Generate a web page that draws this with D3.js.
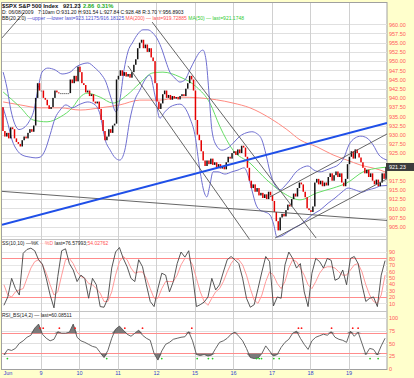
<!DOCTYPE html>
<html>
<head>
<meta charset="utf-8">
<script src="https://cdn.jsdelivr.net/npm/d3@7"></script>
<style>
html, body { margin: 0; padding: 0; background: #ffffcc; }
svg { display: block; font-family: "Liberation Sans", Arial, sans-serif; }
</style>
</head>
<body>
<svg id="chart" width="414" height="378"></svg>
<script>
// ---- data ----
const days = ["Jun", "9", "10", "11", "12", "15", "16", "17", "18", "19"];
const barsPerDay = 20;
const firstOpen = 937.5;
const closes = [
  // Jun 8
  931, 929.5, 930.5, 929, 932, 931.5, 929, 928, 927.5, 926.8, 928.5, 929.5, 929, 930.5, 931.5, 930.8, 932.5, 940, 944, 942,
  // Jun 9
  942, 940, 939.5, 938, 937, 937.5, 940, 942, 941.5, 941.3, 941.3, 941.3, 941.3, 941.3, 941.3, 945, 944, 946, 944.5, 948.5,
  // Jun 10
  947, 944, 943.5, 941.5, 942, 940.5, 941, 939, 938.5, 939, 937, 934, 931, 928.5, 929.5, 931.5, 930.5, 932.5, 933, 945,
  // Jun 11
  946, 947.5, 946, 947, 945.8, 946.5, 945.5, 947, 949, 950.5, 953.5, 955, 955.8, 953.5, 954.5, 952.5, 953.5, 951, 950, 944,
  // Jun 12
  939, 937, 938.5, 941, 942, 940, 940.8, 939.5, 940.5, 939.8, 940.2, 939.6, 940.5, 941, 940.5, 942.5, 944, 946, 945, 942,
  // Jun 15
  934, 930, 928.5, 925.5, 923, 921.5, 923, 922, 923.5, 921.8, 922.5, 921, 922, 920.8, 921.5, 920.6, 922.5, 924, 923.5, 925,
  // Jun 16
  925.5, 924.5, 926, 925, 927, 926.5, 924, 921, 917.5, 915.5, 916.5, 914.5, 915.5, 913.5, 914.2, 912.8, 913.8, 912.5, 914.5, 913.5,
  // Jun 17
  912, 909, 906.5, 904, 907.5, 908.5, 907.8, 909.5, 911, 910.5, 912.5, 914, 913.2, 915.5, 917, 916.5, 914.5, 913, 910, 909.5,
  // Jun 18
  909, 910.5, 917, 918, 916.5, 917.5, 916, 917, 916.2, 918.5, 919.5, 917.5, 919, 920, 918.5, 919.5, 917, 916, 918, 922,
  // Jun 19
  924, 925.5, 923.5, 926, 925, 923.8, 922.5, 921, 919.5, 920.5, 918.5, 919.5, 917.5, 916.5, 917.8, 916, 917, 919.5, 918, 921.23
];
const lastPrice = 921.23;

// indicator curves: [day position, price]
const bbUpper = [
  [0.03, 947.0], [0.13, 942.7], [0.23, 936.7], [0.34, 932.7], [0.44, 931.4], [0.57, 931.9], [0.70, 933.5], [0.83, 936.7],
  [0.94, 942.7], [1.04, 947.0], [1.19, 948.1], [1.38, 947.6], [1.56, 946.5], [1.77, 947.0], [1.92, 948.4], [2.08, 949.2],
  [2.23, 949.5], [2.42, 948.1], [2.57, 946.5], [2.70, 944.3], [2.83, 940.0], [2.96, 936.2], [3.06, 939.4], [3.17, 947.6],
  [3.27, 952.5], [3.40, 955.2], [3.53, 957.4], [3.66, 958.5], [3.79, 958.5], [3.92, 957.6], [4.05, 955.7], [4.16, 953.0],
  [4.26, 949.8], [4.36, 947.0], [4.49, 945.4], [4.62, 944.3], [4.75, 944.9], [4.88, 947.6], [5.01, 950.3], [5.14, 952.5],
  [5.22, 953.0], [5.30, 950.3], [5.38, 940.8], [5.45, 931.4], [5.56, 927.2], [5.71, 925.8], [5.87, 926.4], [6.03, 928.0],
  [6.18, 929.6], [6.34, 930.5], [6.49, 930.8], [6.62, 930.3], [6.75, 928.6], [6.86, 924.5], [6.96, 919.9], [7.09, 916.3],
  [7.22, 915.0], [7.35, 916.1], [7.48, 917.7], [7.64, 919.9], [7.79, 921.0], [7.95, 921.5], [8.10, 920.4], [8.26, 919.9],
  [8.42, 920.4], [8.57, 921.0], [8.73, 921.8], [8.88, 923.7], [9.01, 927.2], [9.17, 929.1], [9.32, 929.6], [9.48, 929.1],
  [9.64, 927.2], [9.79, 924.5], [9.95, 923.3], [10, 923.1]
];
const bbLower = [
  [0.03, 937.3], [0.16, 932.7], [0.26, 928.6], [0.39, 925.8], [0.52, 924.5], [0.73, 923.9], [0.88, 923.7], [0.99, 923.9],
  [1.12, 925.8], [1.25, 930.0], [1.38, 934.5], [1.51, 936.7], [1.66, 938.1], [1.82, 937.3], [2.03, 938.3], [2.23, 938.9],
  [2.42, 938.1], [2.55, 935.4], [2.68, 928.6], [2.81, 925.8], [2.94, 923.7], [3.06, 923.1], [3.19, 925.8], [3.32, 934.0],
  [3.45, 939.4], [3.58, 942.1], [3.71, 944.9], [3.84, 946.2], [3.97, 940.8], [4.10, 934.5], [4.23, 936.2], [4.36, 937.5],
  [4.49, 938.1], [4.62, 938.3], [4.75, 937.3], [4.88, 934.5], [5.01, 930.0], [5.14, 920.4], [5.25, 914.4], [5.32, 913.1],
  [5.40, 916.3], [5.48, 919.9], [5.61, 919.9], [5.79, 919.3], [5.97, 919.9], [6.13, 920.4], [6.29, 921.0], [6.39, 919.0],
  [6.49, 915.0], [6.60, 910.9], [6.70, 909.5], [6.83, 909.0], [6.96, 908.2], [7.06, 905.5], [7.14, 902.2], [7.27, 902.5],
  [7.43, 903.6], [7.58, 904.6], [7.74, 905.5], [7.90, 906.8], [8.05, 908.2], [8.26, 909.5], [8.47, 911.4], [8.65, 912.8],
  [8.83, 914.4], [8.99, 915.5], [9.17, 915.0], [9.35, 914.4], [9.51, 915.0], [9.69, 915.5], [9.84, 916.1], [10, 916.2]
];
const ma50 = [
  [0.03, 941.6], [0.47, 937.5], [0.81, 934.0], [1.17, 933.5], [1.51, 934.8], [1.84, 937.5], [2.03, 940.2], [2.21, 941.3],
  [2.55, 940.2], [2.88, 938.6], [3.25, 940.8], [3.58, 944.0], [3.92, 946.8], [4.18, 947.0], [4.62, 945.7], [5.06, 942.9],
  [5.40, 938.6], [5.66, 932.2], [6.00, 925.8], [6.44, 922.3], [6.88, 917.7], [7.30, 914.2], [7.74, 912.3], [8.18, 914.2],
  [8.60, 915.5], [8.96, 916.9], [9.38, 919.9], [9.82, 921.0], [10, 921.2]
];
const ma200 = [
  [0.03, 938.9], [0.47, 938.1], [0.99, 937.3], [1.51, 937.3], [2.03, 936.7], [2.55, 937.3], [3.06, 938.1], [3.58, 939.4],
  [4.10, 939.4], [4.62, 940.2], [5.14, 940.0], [6.00, 938.6], [6.44, 937.3], [6.96, 934.5], [7.40, 931.4], [7.74, 928.6],
  [8.18, 926.7], [8.60, 924.5], [8.96, 923.1], [9.30, 921.8], [9.82, 920.4], [10, 919.7]
];

// drawn trend lines: [[day, price], [day, price]]
const blueTrend = [[0, 905.5], [10, 933.2]];
const grayTrends = [
  [[0, 914.6], [10, 906.7]],
  [[0, 956.3], [0.57, 963.1]],
  [[3.90, 960.6], [8.16, 901.9]],
  [[3.27, 948.7], [6.44, 901.4]],
  [[6.96, 913.1], [10, 930.2]],
  [[7.09, 901.9], [10, 918.0]]
];

// slow stochastic and RSI, ten readings per day
const stochK = [7, 20, 49, 33, 23, 88, 94, 96, 92, 78, 71, 49, 23, 3, 52, 92, 95, 72, 62, 44,
  54, 49, 18, 49, 39, 5, 4, 18, 65, 90, 97, 80, 67, 49, 44, 78, 67, 39, 13, 5,
  33, 57, 54, 28, 44, 72, 90, 82, 92, 54, 5, 8, 12, 20, 49, 31, 39, 59, 78, 83,
  78, 72, 49, 18, 4, 8, 33, 59, 83, 75, 6, 20, 18, 70, 90, 80, 65, 72, 28, 5,
  57, 80, 75, 65, 80, 77, 46, 49, 62, 39, 80, 83, 72, 39, 13, 18, 20, 5, 54, 76.58];
const stochD = [39, 23, 20, 28, 31, 33, 49, 65, 75, 78, 70, 57, 39, 23, 28, 54, 78, 80, 72, 59,
  52, 49, 41, 39, 33, 26, 13, 13, 28, 54, 75, 83, 78, 65, 57, 59, 59, 49, 33, 18,
  18, 33, 44, 44, 44, 54, 70, 80, 80, 70, 49, 28, 13, 7, 18, 28, 33, 44, 59, 72,
  80, 78, 70, 54, 33, 15, 10, 23, 44, 59, 54, 41, 33, 44, 65, 78, 75, 65, 54, 39,
  33, 44, 57, 65, 67, 67, 65, 59, 54, 54, 62, 70, 72, 59, 39, 23, 13, 10, 23, 54.03];
const rsi = [27, 38, 36, 40, 50, 55, 62, 66, 80, 88, 68, 60, 55, 58, 73, 70, 70, 72, 88, 62,
  55, 52, 48, 44, 42, 32, 22, 36, 60, 78, 84, 76, 68, 64, 70, 76, 66, 60, 56, 30,
  17, 35, 48, 52, 58, 60, 62, 63, 73, 55, 28, 26, 28, 25, 27, 40, 52, 55, 60, 68,
  72, 64, 55, 40, 22, 20, 21, 30, 45, 35, 25, 28, 42, 52, 58, 70, 74, 60, 48, 38,
  55, 62, 65, 68, 66, 73, 62, 58, 56, 52, 74, 64, 72, 50, 28, 40, 38, 27, 45, 60.09];
const sellSignals = [0.99, 1.07, 1.49, 1.90, 3.19, 3.65, 4.93, 7.70, 7.78, 8.56, 9.11, 9.25];
const buySignals = [0.14, 2.72, 4.15, 5.07, 5.36, 5.47, 6.61, 6.68, 6.74, 7.06, 7.20, 9.56, 9.77];

// ---- chart ----
const svg = d3.select("#chart");
const left = 2, right = 387;
const mainTop = 3, mainBottom = 239.5, ssBottom = 311.5, rsiBottom = 369.5;

const x = d3.scaleLinear().domain([0, 10]).range([left, right]);
const yP = d3.scaleLinear().domain([905, 960]).range([226.7, 24.3]);
const yS = d3.scaleLinear().domain([0, 100]).range([309.8, 245.6]);
const yR = d3.scaleLinear().domain([0, 100]).range([368.7, 318]);
const crisp = v => Math.round(v) + 0.5;

svg.append("rect")
  .attr("x", 1.5).attr("y", 2.5)
  .attr("width", right - 1.5).attr("height", rsiBottom - 2.5)
  .attr("fill", "#fff")
  .attr("stroke", "#a0a0a0");

const defs = svg.append("defs");
[["clipMain", mainTop, mainBottom], ["clipSS", mainBottom, ssBottom], ["clipRSI", ssBottom, rsiBottom]]
  .forEach(([id, y0, y1]) => {
    defs.append("clipPath").attr("id", id)
      .append("rect").attr("x", left).attr("y", y0).attr("width", right - left).attr("height", y1 - y0);
  });

// grid
const grid = svg.append("g");
grid.selectAll(".hp").data(d3.range(902.5, 961, 2.5)).join("line")
  .attr("x1", left).attr("x2", right)
  .attr("y1", d => crisp(yP(d))).attr("y2", d => crisp(yP(d)))
  .attr("stroke", "#e0e0e0");
grid.selectAll(".hs").data(d3.range(10, 100, 10)).join("line")
  .attr("x1", left).attr("x2", right)
  .attr("y1", d => crisp(yS(d))).attr("y2", d => crisp(yS(d)))
  .attr("stroke", "#e6e6e6");
grid.selectAll(".hr").data([25, 50, 75, 100]).join("line")
  .attr("x1", left).attr("x2", right)
  .attr("y1", d => crisp(yR(d))).attr("y2", d => crisp(yR(d)))
  .attr("stroke", "#e0e0e0");
grid.selectAll(".v").data(d3.range(1, 10)).join("line")
  .attr("x1", d => crisp(x(d))).attr("x2", d => crisp(x(d)))
  .attr("y1", mainTop).attr("y2", rsiBottom)
  .attr("stroke", "#d0d0d0");
grid.selectAll(".sep").data([mainBottom, ssBottom]).join("line")
  .attr("x1", left).attr("x2", right)
  .attr("y1", d => d).attr("y2", d => d)
  .attr("stroke", "#c4c4c4");

// reference levels
svg.append("g").selectAll("line")
  .data([[yS, 80], [yS, 20], [yR, 70], [yR, 30]])
  .join("line")
  .attr("x1", left).attr("x2", right)
  .attr("y1", d => crisp(d[0](d[1]))).attr("y2", d => crisp(d[0](d[1])))
  .attr("stroke", "#ff8c8c");

// ---- price panel ----
const main = svg.append("g").attr("clip-path", "url(#clipMain)");
const priceLine = d3.line().x(d => x(d[0])).y(d => yP(d[1]));
const smooth = d3.line().x(d => x(d[0])).y(d => yP(d[1])).curve(d3.curveMonotoneX);

main.append("path").datum(ma200).attr("d", smooth).attr("fill", "none").attr("stroke", "#ff8a80").attr("stroke-width", 1);
main.append("path").datum(ma50).attr("d", smooth).attr("fill", "none").attr("stroke", "#66dd66").attr("stroke-width", 1);
[bbUpper, bbLower].forEach(band => {
  main.append("path").datum(band).attr("d", smooth)
    .attr("fill", "none").attr("stroke", "#6f6fd0").attr("stroke-width", 1);
});

const bars = closes.map((c, i) => ({
  t: Math.floor(i / barsPerDay) + ((i % barsPerDay) + 0.5) / barsPerDay,
  o: i ? closes[i - 1] : firstOpen,
  c
}));
main.append("g").selectAll("rect").data(bars).join("rect")
  .attr("x", d => x(d.t) - 0.75)
  .attr("width", 1.5)
  .attr("y", d => yP(Math.max(d.o, d.c)))
  .attr("height", d => Math.max(1, Math.abs(yP(d.o) - yP(d.c))))
  .attr("fill", d => d.c > d.o ? "#111" : d.c < d.o ? "#e60000" : "#777");

grayTrends.forEach(seg => {
  main.append("path").datum(seg).attr("d", priceLine)
    .attr("fill", "none").attr("stroke", "#555").attr("stroke-width", 0.9);
});
main.append("path").datum(blueTrend).attr("d", priceLine)
  .attr("fill", "none").attr("stroke", "#1f4fe8").attr("stroke-width", 2);

// ---- stochastic panel ----
const ss = svg.append("g").attr("clip-path", "url(#clipSS)");
const tk = (d, i) => x((i + 0.5) / 10);
ss.append("path").datum(stochD)
  .attr("d", d3.line().x(tk).y(d => yS(d)))
  .attr("fill", "none").attr("stroke", "#ff9a9a").attr("stroke-width", 1);
ss.append("path").datum(stochK)
  .attr("d", d3.line().x(tk).y(d => yS(d)))
  .attr("fill", "none").attr("stroke", "#444").attr("stroke-width", 0.9);

// ---- RSI panel ----
const rp = svg.append("g").attr("clip-path", "url(#clipRSI)");
rp.append("path").datum(rsi)
  .attr("d", d3.area().x(tk).y0(yR(70)).y1(d => yR(Math.max(d, 70))))
  .attr("fill", "#7a7a7a");
rp.append("path").datum(rsi)
  .attr("d", d3.area().x(tk).y0(yR(30)).y1(d => yR(Math.min(d, 30))))
  .attr("fill", "#7a7a7a");
rp.append("path").datum(rsi)
  .attr("d", d3.line().x(tk).y(d => yR(d)))
  .attr("fill", "none").attr("stroke", "#555").attr("stroke-width", 0.9);
rp.selectAll(".sell").data(sellSignals).join("circle")
  .attr("cx", d => x(d)).attr("cy", yR(80)).attr("r", 0.9).attr("fill", "#ff1a1a");
rp.selectAll(".buy").data(buySignals).join("circle")
  .attr("cx", d => x(d)).attr("cy", yR(20)).attr("r", 0.9).attr("fill", "#22cc22");

// ---- axes ----
function rightAxis(scale, ticks, fmt) {
  svg.append("g")
    .attr("transform", `translate(${right + 1},0)`)
    .call(d3.axisRight(scale).tickValues(ticks).tickFormat(fmt).tickSize(0).tickPadding(1))
    .attr("font-size", 5.5)
    .attr("font-family", "Liberation Sans, Arial, sans-serif")
    .call(g => g.select(".domain").remove())
    .selectAll("text").attr("fill", "#ff5a5a");
}
// price ticks hidden behind the last-price box are skipped
rightAxis(yP, d3.range(905, 960.1, 2.5).filter(v => Math.abs(v - lastPrice) > 2.6), d3.format(".2f"));
rightAxis(yS, d3.range(10, 100, 10), d3.format("d"));
rightAxis(yR, [0, 25, 50, 75, 100], d3.format("d"));

svg.append("rect")
  .attr("x", right - 1).attr("y", yP(lastPrice) - 4)
  .attr("width", 414 - right + 1).attr("height", 8)
  .attr("fill", "#3c3c3c");
svg.append("text")
  .attr("x", right + 2).attr("y", yP(lastPrice) + 2)
  .attr("font-size", 5.5).attr("fill", "#fff")
  .text(lastPrice.toFixed(2));

svg.append("g")
  .attr("transform", `translate(0,${rsiBottom})`)
  .call(d3.axisBottom(x).tickValues(d3.range(0, 10)).tickFormat(i => days[i]).tickSize(0).tickPadding(2))
  .attr("font-size", 5.5)
  .attr("font-family", "Liberation Sans, Arial, sans-serif")
  .call(g => g.select(".domain").remove())
  .selectAll("text")
  .attr("fill", "#3346d0")
  .attr("text-anchor", (d, i) => i === 0 ? "start" : "middle")
  .attr("dx", (d, i) => i === 0 ? 1 : 0);

// ---- header and legends ----
const head = svg.append("g");
head.append("text").attr("x", 2).attr("y", 7.5)
  .attr("font-size", 5.8).attr("font-weight", "bold")
  .call(t => {
    t.append("tspan").attr("fill", "#111").text("$SPX S&P 500 Index");
    t.append("tspan").attr("x", 63).attr("fill", "#111").text("921.23");
    t.append("tspan").attr("x", 83).attr("fill", "#22aa22").text("2.86");
    t.append("tspan").attr("x", 97).attr("fill", "#22aa22").text("0.31%");
  });
head.append("text").attr("x", 2).attr("y", 14)
  .attr("font-size", 5).attr("fill", "#111")
  .call(t => {
    t.append("tspan").text("D: 06/08/2009");
    t.append("tspan").attr("x", 38).text("7:10am O:931.20 H:931.54 L:927.84 C:928.48 R:3.70 Y:956.8903");
  });
head.append("text").attr("x", 2).attr("y", 19.8)
  .attr("font-size", 5)
  .call(t => {
    t.append("tspan").attr("fill", "#111").text("BB(20,2.0) ");
    t.append("tspan").attr("fill", "#4a4ad0").text("\u2014upper \u2014lower last=923.12175/916.18125 ");
    t.append("tspan").attr("fill", "#ff5050").text("MA(200) \u2014 last=919.72885 ");
    t.append("tspan").attr("fill", "#33cc33").text("MA(50) \u2014 last=921.1748");
  });
svg.append("text").attr("x", 2).attr("y", 244.5)
  .attr("font-size", 5)
  .call(t => {
    t.append("tspan").attr("fill", "#222").text("SS(10,10) \u2014%K ");
    t.append("tspan").attr("fill", "#ff6a6a").text("\u00b7\u00b7\u00b7%D ");
    t.append("tspan").attr("fill", "#222").text("last=76.57993;");
    t.append("tspan").attr("fill", "#ff5050").text("54.02762");
  });
svg.append("text").attr("x", 2).attr("y", 316.5)
  .attr("font-size", 5).attr("fill", "#222")
  .text("RSI_BS(14,2) \u2014 last=60.08511");
</script>
</body>
</html>
